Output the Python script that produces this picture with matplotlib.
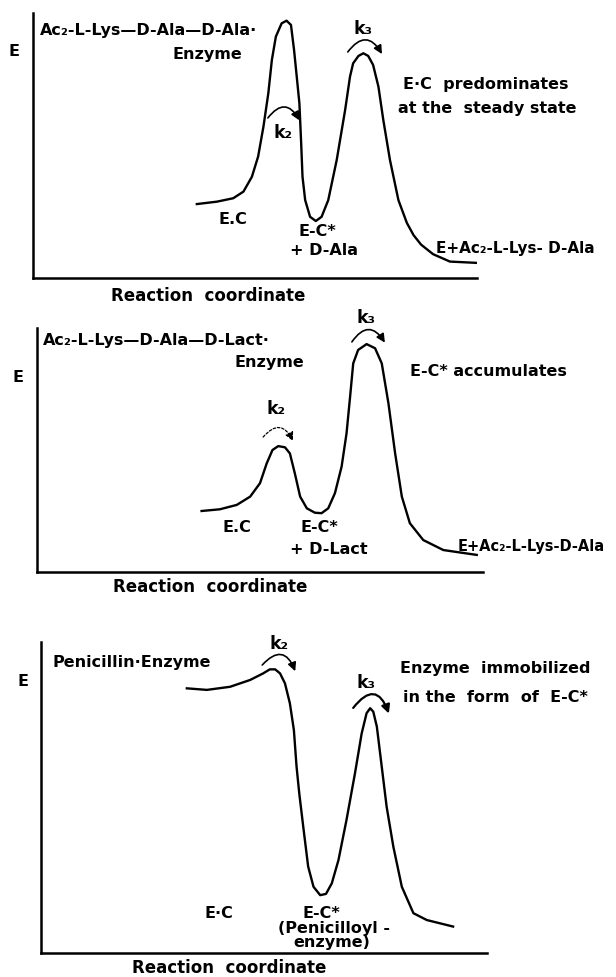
import numpy as np
import matplotlib
matplotlib.use("Agg")
import matplotlib.pyplot as plt
from matplotlib.patches import FancyArrowPatch

# Energy profiles (reaction coordinate 0-100, energy 0-100)
# Panel 1: Ac2-L-Lys-D-Ala-D-Ala
x1 = [36.9, 41.4, 45.1, 47.4, 49.3, 50.7, 51.9, 53.0, 53.8, 54.7, 56.0, 57.1, 58.1,
      58.8, 59.4, 60.0, 60.4, 60.7, 61.3, 62.4, 63.7, 65.0, 66.5, 68.4, 70.3, 71.4,
      72.1, 73.3, 74.4, 75.5, 76.6, 77.8, 78.9, 80.4, 82.3, 84.2, 85.7, 87.4, 90.1,
      93.9, 100.0]
e1 = [27.9, 28.8, 30.1, 32.6, 38.2, 45.8, 57.1, 69.7, 82.3, 91.1, 96.1, 97.1, 95.5,
      86.0, 76.0, 65.9, 50.8, 38.2, 29.4, 23.1, 21.5, 23.1, 29.4, 44.5, 63.4, 76.0,
      81.0, 83.8, 84.8, 83.8, 80.4, 72.2, 59.6, 44.5, 29.4, 20.8, 16.2, 12.6, 9.0,
      6.2, 5.7]

# Panel 2: Ac2-L-Lys-D-Ala-D-Lact
x2 = [36.9, 41.0, 44.8, 47.8, 50.0, 51.5, 52.8, 54.1, 55.6, 56.7, 57.8, 59.0, 60.5,
      62.3, 63.8, 65.3, 66.8, 68.3, 69.4, 70.2, 70.9, 72.0, 73.9, 75.8, 77.3, 78.8,
      80.3, 81.8, 83.6, 86.6, 91.1, 98.6]
e2 = [25.0, 25.7, 27.5, 30.9, 36.4, 44.5, 50.0, 51.6, 51.1, 48.6, 40.5, 30.9, 26.1,
      24.3, 24.1, 26.1, 32.3, 43.2, 56.8, 71.8, 85.5, 91.0, 93.4, 91.7, 85.5, 69.1,
      48.6, 30.9, 20.0, 13.1, 9.0, 7.0]

# Panel 3: Penicillin
x3 = [32.7, 37.2, 42.4, 46.9, 49.8, 51.3, 52.5, 53.6, 54.7, 55.8, 56.7, 57.3, 57.9,
      58.8, 59.9, 61.1, 62.6, 63.9, 65.2, 66.7, 68.5, 70.4, 71.9, 73.0, 73.8, 74.5,
      75.3, 76.4, 77.5, 79.0, 80.9, 83.5, 86.5, 92.4]
e3 = [85.1, 84.6, 85.6, 87.8, 89.9, 91.2, 91.2, 89.9, 86.7, 80.3, 71.7, 59.9, 51.4,
      40.6, 27.8, 21.3, 18.6, 19.0, 22.4, 29.9, 42.8, 57.8, 70.6, 77.1, 78.7, 77.6,
      72.8, 59.9, 47.0, 34.2, 21.3, 12.8, 10.6, 8.5]

W, H = 616, 977
fig = plt.figure(figsize=(W / 100, H / 100), dpi=100)

FONT = dict(family="DejaVu Sans", fontweight="bold", color="black")


def px_text(x, y, s, size=11.5, ha="left", **kw):
    fig.text(x / W, 1 - y / H, s, ha=ha, va="center", fontsize=size, **FONT, **kw)


def panel(left, top, right, bottom):
    ax = fig.add_axes([left / W, 1 - bottom / H, (right - left) / W, (bottom - top) / H])
    ax.set_xlim(0, 100)
    ax.set_ylim(0, 100)
    for s in ("top", "right"):
        ax.spines[s].set_visible(False)
    for s in ("left", "bottom"):
        ax.spines[s].set_linewidth(1.8)
    ax.set_xticks([])
    ax.set_yticks([])
    ax.patch.set_alpha(0)
    return ax


def rate_arrow(ax, p0, p1, rad=-0.75, lw=1.2, ls="-"):
    arr = FancyArrowPatch(p0, p1, connectionstyle=f"arc3,rad={rad}",
                          arrowstyle="-|>,head_length=5,head_width=2.5",
                          lw=lw, ls=ls, color="black", clip_on=False,
                          shrinkA=0, shrinkB=0)
    ax.add_patch(arr)


# ---- Panel 1
ax1 = panel(33, 13, 477, 278)
ax1.plot(x1, e1, color="black", lw=1.7, solid_joinstyle="round")
rate_arrow(ax1, (52.9, 60.4), (60.0, 59.5))
rate_arrow(ax1, (70.9, 85.3), (78.6, 84.5))
px_text(14, 52, "E", ha="center")
px_text(40, 30, "Ac\u2082-L-Lys\u2014D-Ala\u2014D-Ala\u00b7")
px_text(172, 55, "Enzyme")
px_text(283, 133, "k\u2082", size=12.5, ha="center")
px_text(363, 29, "k\u2083", size=12.5, ha="center")
px_text(403, 85, "E\u00b7C  predominates")
px_text(398, 108, "at the  steady state")
px_text(218, 220, "E.C")
px_text(298, 231, "E-C*")
px_text(290, 251, "+ D-Ala")
px_text(436, 248, "E+Ac\u2082-L-Lys- D-Ala", size=11)
px_text(208, 296, "Reaction  coordinate", size=12, ha="center")

# ---- Panel 2
ax2 = panel(37, 328, 483, 572)
ax2.plot(x2, e2, color="black", lw=1.7, solid_joinstyle="round")
rate_arrow(ax2, (50.7, 55.3), (57.4, 53.7), lw=0.9, ls=(0, (2, 1.5)))
rate_arrow(ax2, (70.6, 94.3), (78.0, 94.0))
px_text(18, 378, "E", ha="center")
px_text(43, 340, "Ac\u2082-L-Lys\u2014D-Ala\u2014D-Lact\u00b7")
px_text(235, 363, "Enzyme")
px_text(276, 409, "k\u2082", size=12.5, ha="center")
px_text(366, 318, "k\u2083", size=12.5, ha="center")
px_text(410, 372, "E-C* accumulates")
px_text(223, 528, "E.C")
px_text(300, 528, "E-C*")
px_text(290, 549, "+ D-Lact")
px_text(458, 547, "E+Ac\u2082-L-Lys-D-Ala", size=10.5)
px_text(210, 587, "Reaction  coordinate", size=12, ha="center")

# ---- Panel 3
ax3 = panel(41, 642, 487, 953)
ax3.plot(x3, e3, color="black", lw=1.7, solid_joinstyle="round")
rate_arrow(ax3, (49.6, 92.6), (57.0, 90.6), rad=-0.8)
rate_arrow(ax3, (70.0, 78.8), (78.0, 77.0), rad=-0.9, lw=1.6)
px_text(23, 682, "E", ha="center")
px_text(53, 662, "Penicillin\u00b7Enzyme")
px_text(279, 644, "k\u2082", size=12.5, ha="center")
px_text(366, 683, "k\u2083", size=12.5, ha="center")
px_text(400, 668, "Enzyme  immobilized")
px_text(403, 698, "in the  form  of  E-C*")
px_text(204, 913, "E\u00b7C")
px_text(302, 913, "E-C*")
px_text(278, 928, "(Penicilloyl -")
px_text(293, 942, "enzyme)")
px_text(229, 968, "Reaction  coordinate", size=12, ha="center")

fig.savefig("out.png", dpi=100)
